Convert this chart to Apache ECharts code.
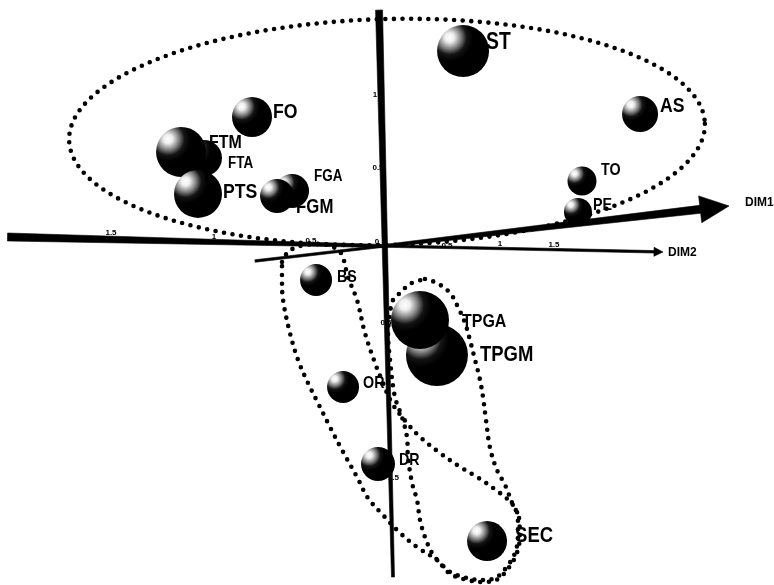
<!DOCTYPE html>
<html>
<head>
<meta charset="utf-8">
<script src="https://cdn.jsdelivr.net/npm/echarts@6/dist/echarts.min.js"></script>
<style>
html, body { margin: 0; padding: 0; background: #fff; }
#main { width: 774px; height: 585px; }
</style>
</head>
<body>
<div id="main"></div>
<script>
// variables on the factorial plane (draw order: later ones sit on top)
var names   = ["FTA", "FTM", "PTS", "FGA", "FGM", "FO", "ST", "AS", "TO", "PE", "BS", "OR", "DR", "TPGM", "TPGA", "SEC"];
var factor1 = [-1.2, -1.353, -1.24, -0.613, -0.713, -0.88, 0.527, 1.707, 1.32, 1.293, -0.453, -0.273, -0.04, 0.353, 0.24, 0.687];
var factor2 = [0.587, 0.627, 0.347, 0.367, 0.333, 0.86, 1.30, 0.88, 0.433, 0.227, -0.227, -0.94, -1.453, -0.727, -0.493, -1.967];
var inertia = [18, 25, 24, 17, 17, 20, 26, 18, 14.5, 14, 16, 16, 17, 31, 29, 20];

// axes as drawn in the figure (they bend at the origin)
var axisDim1 = [[-2.51, 0.06], [0, 0], [2.3, 0.267]];
var axisDim2 = [[-0.86, -0.1], [0, 0], [1.86, -0.04]];
var axisVert = [[-0.033, 1.573], [0.06, -2.207]];

// tick labels
var tickText = ["1.5", "1", "0.5", "0", "0.5", "1", "1.5", "1", "0.5", "0.5", "1.5"];
var tickX    = [-1.82, -1.133, -0.487, -0.047, 0.42, 0.773, 1.133, -0.06, -0.04, 0.013, 0.063];
var tickY    = [0.087, 0.06, 0.033, 0.027, 0.0, 0.013, 0.007, 1.007, 0.52, -0.513, -1.547];

// dotted groupings
var clusterTop = [0.02, 0.76, 2.12, 0.753]; // centre x, centre y, half axis x, half axis y
var loopLeft = [
    [-0.68, -0.107], [-0.64, -0.04], [-0.56, 0], [-0.427, 0.013], [-0.327, -0.013], [-0.28, -0.06],
    [-0.24, -0.207], [-0.18, -0.36], [-0.127, -0.58], [-0.06, -0.78], [-0.007, -0.913], [0.053, -1.047],
    [0.153, -1.18], [0.24, -1.273], [0.373, -1.38], [0.507, -1.473], [0.62, -1.54], [0.773, -1.647],
    [0.86, -1.727], [0.893, -1.807], [0.893, -1.94], [0.873, -2.047], [0.827, -2.127], [0.753, -2.207],
    [0.66, -2.227], [0.553, -2.213], [0.44, -2.173], [0.353, -2.093], [0.22, -2.007], [0.107, -1.913],
    [-0.007, -1.793], [-0.107, -1.68], [-0.18, -1.54], [-0.28, -1.36], [-0.36, -1.207], [-0.44, -1.047],
    [-0.507, -0.913], [-0.573, -0.76], [-0.627, -0.58], [-0.673, -0.36], [-0.68, -0.227], [-0.68, -0.107]
];
var loopRight = [
    [0.273, -0.22], [0.353, -0.247], [0.44, -0.313], [0.493, -0.407], [0.54, -0.513], [0.573, -0.627],
    [0.607, -0.76], [0.64, -0.893], [0.66, -1.007], [0.68, -1.16], [0.707, -1.347], [0.753, -1.493],
    [0.807, -1.593], [0.86, -1.727], [0.9, -1.81], [0.905, -1.94], [0.885, -2.05], [0.835, -2.14],
    [0.76, -2.22], [0.66, -2.24], [0.55, -2.225], [0.44, -2.185], [0.373, -2.113], [0.32, -2.047],
    [0.273, -1.94], [0.24, -1.827], [0.22, -1.693], [0.187, -1.58], [0.16, -1.407], [0.153, -1.273],
    [0.12, -1.14], [0.073, -1.007], [0.04, -0.76], [0.027, -0.58], [0.04, -0.447], [0.06, -0.36],
    [0.107, -0.313], [0.173, -0.253], [0.273, -0.22]
];

// label placement next to each ball: [dx, dy, font size]
var labelLayout = {
    FTA: [24, 6, 16], FTM: [28, -9, 19], PTS: [25, -2, 21], FGA: [22, -14, 16], FGM: [19, 11, 20],
    FO: [21, -5, 21], ST: [23, -8, 23], AS: [20, -8, 21], TO: [19, -11, 17], PE: [15, -7, 17],
    BS: [21, -3, 17], OR: [20, -4, 17], DR: [21, -4, 17], TPGM: [43, 0, 22], TPGA: [42, 2, 19], SEC: [28, -5, 22]
};

var textFont = '"Liberation Sans", Arial, sans-serif';

function taper(p, q, w1, w2) {
    var dx = q[0] - p[0], dy = q[1] - p[1];
    var len = Math.sqrt(dx * dx + dy * dy);
    var nx = -dy / len, ny = dx / len;
    return [
        [p[0] + nx * w1 / 2, p[1] + ny * w1 / 2],
        [q[0] + nx * w2 / 2, q[1] + ny * w2 / 2],
        [q[0] - nx * w2 / 2, q[1] - ny * w2 / 2],
        [p[0] - nx * w1 / 2, p[1] - ny * w1 / 2]
    ];
}

function arrow(from, tip, headLen, headHalf, w1, w2) {
    var dx = tip[0] - from[0], dy = tip[1] - from[1];
    var len = Math.sqrt(dx * dx + dy * dy);
    var ux = dx / len, uy = dy / len;
    var base = [tip[0] - ux * headLen, tip[1] - uy * headLen];
    return [
        taper(from, base, w1, w2),
        [[base[0] - uy * headHalf, base[1] + ux * headHalf], tip, [base[0] + uy * headHalf, base[1] - ux * headHalf]]
    ];
}

function renderAxes(params, api) {
    var d1 = axisDim1.map(function(p) { return api.coord(p); });
    var d2 = axisDim2.map(function(p) { return api.coord(p); });
    var v = axisVert.map(function(p) { return api.coord(p); });
    var polys = [];
    polys.push(taper(d1[0], d1[1], 8, 3));
    var a1 = arrow(d1[1], d1[2], 29, 13.5, 3, 8);
    polys.push(a1[0], a1[1]);
    polys.push(taper(d2[0], d2[1], 2.5, 2.5));
    var a2 = arrow(d2[1], d2[2], 9, 4.5, 2.5, 2.5);
    polys.push(a2[0], a2[1]);
    polys.push(taper(v[0], v[1], 7, 3));
    var children = polys.map(function(pts) {
        return { type: "polygon", shape: { points: pts }, style: { fill: "#000", stroke: "#000", lineWidth: 0.6, lineJoin: "round" } };
    });
    children.push(
        { type: "text", x: d1[2][0] + 16, y: d1[2][1] - 3, style: { text: "DIM1", fill: "#000", font: "bold 12px " + textFont, align: "left", verticalAlign: "middle" } },
        { type: "text", x: d2[2][0] + 5, y: d2[2][1] + 1, style: { text: "DIM2", fill: "#000", font: "bold 12px " + textFont, align: "left", verticalAlign: "middle" } }
    );
    return { type: "group", children: children };
}

function renderTick(params, api) {
    var p = api.coord([api.value(0), api.value(1)]);
    return {
        type: "text", x: p[0], y: p[1],
        style: { text: tickText[params.dataIndex], fill: "#000", font: "bold 8px " + textFont, align: "center", verticalAlign: "middle" }
    };
}

function renderLabel(params, api) {
    var p = api.coord([api.value(0), api.value(1)]);
    var n = names[params.dataIndex];
    var l = labelLayout[n];
    return {
        type: "text", x: p[0] + l[0], y: p[1] + l[1], scaleX: 0.84,
        style: { text: n, fill: "#000", font: "bold " + l[2] + "px " + textFont, align: "left", verticalAlign: "middle" }
    };
}

function renderEllipse(params, api) {
    var c = api.coord([api.value(0), api.value(1)]);
    var s = api.size([api.value(2), api.value(3)]);
    var tilt = -1.5 * Math.PI / 180;
    var pts = [];
    for (var k = 0; k < 240; k++) {
        var t = k / 240 * Math.PI * 2;
        var x = s[0] * Math.cos(t), y = s[1] * Math.sin(t);
        pts.push([c[0] + x * Math.cos(tilt) - y * Math.sin(tilt), c[1] + x * Math.sin(tilt) + y * Math.cos(tilt)]);
    }
    return {
        type: "polygon",
        shape: { points: pts },
        style: { fill: null, stroke: "#000", lineWidth: 4.6, lineDash: [0, 8.6], lineCap: "round" }
    };
}

var dotStyle = { color: "#000", width: 4.6, type: [0, 8.6], cap: "round" };

var ballColor = {
    type: "radial", x: 0.24, y: 0.24, r: 0.75,
    colorStops: [
        { offset: 0, color: "#ffffff" },
        { offset: 0.12, color: "#eeeeee" },
        { offset: 0.3, color: "#7a7a7a" },
        { offset: 0.44, color: "#141414" },
        { offset: 0.6, color: "#000000" },
        { offset: 1, color: "#000000" }
    ]
};

var chart = echarts.init(document.getElementById("main"));
var option = {
    backgroundColor: "#ffffff",
    animation: false,
    grid: { left: 0, right: 0, top: 0, bottom: 0 },
    xAxis: { type: "value", min: -2.56, max: 2.6, show: false },
    yAxis: { type: "value", min: -2.26, max: 1.64, show: false },
    series: [
        {
            type: "custom",
            z: 1,
            silent: true,
            renderItem: renderAxes,
            data: [[0, 0]]
        },
        {
            type: "custom",
            z: 2,
            silent: true,
            renderItem: renderTick,
            data: tickX.map(function(x, i) { return [x, tickY[i]]; })
        },
        {
            type: "custom",
            z: 3,
            silent: true,
            renderItem: renderLabel,
            data: names.map(function(n, i) { return [factor1[i], factor2[i]]; })
        },
        {
            type: "scatter",
            z: 4,
            silent: true,
            symbol: "circle",
            symbolSize: function(val, p) { return inertia[p.dataIndex] * 2; },
            itemStyle: { color: ballColor, opacity: 1 },
            data: names.map(function(n, i) { return { name: n, value: [factor1[i], factor2[i]] }; })
        },
        {
            type: "custom",
            z: 5,
            silent: true,
            renderItem: renderEllipse,
            data: [clusterTop]
        },
        {
            type: "line",
            z: 5,
            silent: true,
            smooth: 0.35,
            showSymbol: false,
            lineStyle: dotStyle,
            data: loopLeft
        },
        {
            type: "line",
            z: 5,
            silent: true,
            smooth: 0.35,
            showSymbol: false,
            lineStyle: dotStyle,
            data: loopRight
        }
    ]
};
chart.setOption(option);
</script>
</body>
</html>
